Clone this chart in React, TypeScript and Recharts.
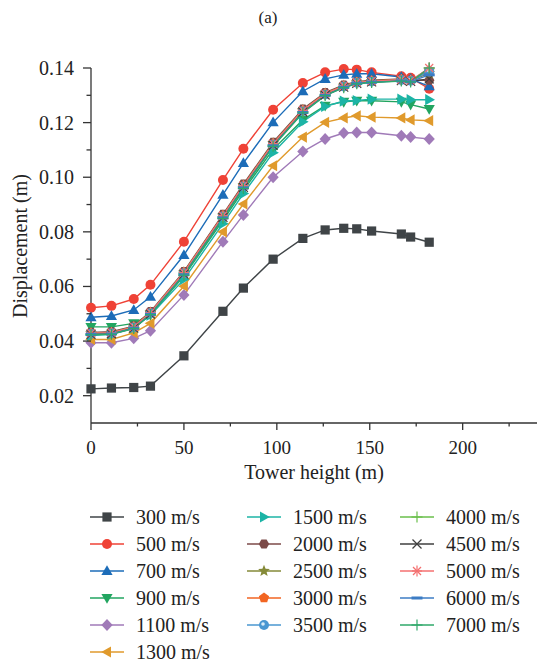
import React from 'react';
import { LineChart, Line, XAxis, YAxis } from 'recharts';

const FONT = '"Liberation Serif", "Times New Roman", serif';

// tower heights (m)
const heights = [0, 11, 23, 32, 50, 71, 82, 98, 114, 126, 136, 143, 151, 167, 172, 182];

// displacement (m) per wave speed
const d300 = [0.0225, 0.0228, 0.023, 0.0235, 0.0346, 0.0509, 0.0594, 0.07, 0.0776, 0.0807, 0.0813, 0.0811, 0.0803, 0.0792, 0.0781, 0.0762];
const d500 = [0.0522, 0.0529, 0.0554, 0.0606, 0.0764, 0.099, 0.1104, 0.1247, 0.1345, 0.1384, 0.1396, 0.1394, 0.1384, 0.137, 0.1364, 0.1324];
const d700 = [0.0487, 0.0492, 0.0514, 0.0562, 0.0715, 0.0936, 0.1052, 0.1201, 0.1315, 0.136, 0.1375, 0.1379, 0.1379, 0.1367, 0.136, 0.1333];
const d900 = [0.0452, 0.0452, 0.0465, 0.0497, 0.0638, 0.0842, 0.0952, 0.1102, 0.121, 0.1262, 0.1276, 0.128, 0.128, 0.1276, 0.1266, 0.125];
const d1100 = [0.0394, 0.0394, 0.041, 0.0438, 0.0569, 0.0764, 0.0862, 0.1, 0.1094, 0.114, 0.1162, 0.1164, 0.1164, 0.1152, 0.1147, 0.114];
const d1300 = [0.0406, 0.0406, 0.043, 0.0465, 0.0601, 0.08, 0.0902, 0.1042, 0.1147, 0.1201, 0.1217, 0.1225, 0.122, 0.1217, 0.121, 0.1207];
const d1500 = [0.042, 0.0425, 0.0448, 0.0495, 0.0626, 0.083, 0.094, 0.109, 0.1203, 0.1259, 0.1279, 0.1281, 0.1286, 0.1286, 0.1284, 0.1284];
const d2000 = [0.0432, 0.0434, 0.0455, 0.0508, 0.0655, 0.0864, 0.0975, 0.1128, 0.125, 0.131, 0.1338, 0.135, 0.1355, 0.136, 0.1355, 0.1355];
const d2500 = [0.043, 0.0432, 0.0453, 0.0505, 0.0652, 0.086, 0.097, 0.1125, 0.1246, 0.1307, 0.1335, 0.1348, 0.1353, 0.1358, 0.1355, 0.138];
const d3000 = [0.0428, 0.043, 0.0451, 0.0503, 0.065, 0.0858, 0.0968, 0.1122, 0.1244, 0.1305, 0.1333, 0.1347, 0.1352, 0.1357, 0.1354, 0.139];
const d3500 = [0.0427, 0.0429, 0.045, 0.0502, 0.0648, 0.0856, 0.0966, 0.112, 0.1242, 0.1303, 0.1332, 0.1346, 0.1351, 0.1356, 0.1353, 0.1388];
const d4000 = [0.0426, 0.0428, 0.0449, 0.05, 0.0646, 0.0854, 0.0964, 0.1118, 0.124, 0.1302, 0.1331, 0.1345, 0.135, 0.1355, 0.1352, 0.14];
const d4500 = [0.0425, 0.0427, 0.0448, 0.0499, 0.0645, 0.0853, 0.0963, 0.1117, 0.1239, 0.1301, 0.133, 0.1344, 0.1349, 0.1354, 0.1351, 0.136];
const d5000 = [0.0429, 0.0431, 0.0452, 0.0504, 0.0651, 0.0859, 0.0969, 0.1123, 0.1245, 0.1306, 0.1334, 0.1347, 0.1352, 0.1357, 0.1354, 0.14];
const d6000 = [0.0424, 0.0426, 0.0447, 0.0498, 0.0643, 0.0851, 0.0961, 0.1115, 0.1237, 0.13, 0.1329, 0.1343, 0.1348, 0.1353, 0.135, 0.1375];
const d7000 = [0.0423, 0.0425, 0.0446, 0.0497, 0.0641, 0.0849, 0.0959, 0.1113, 0.1236, 0.1299, 0.1328, 0.1342, 0.1347, 0.1352, 0.1349, 0.14];

const speedLabels = ['300 m/s', '500 m/s', '700 m/s', '900 m/s', '1100 m/s', '1300 m/s', '1500 m/s', '2000 m/s',
  '2500 m/s', '3000 m/s', '3500 m/s', '4000 m/s', '4500 m/s', '5000 m/s', '6000 m/s', '7000 m/s'];
const seriesValues = [d300, d500, d700, d900, d1100, d1300, d1500, d2000, d2500, d3000, d3500, d4000, d4500, d5000, d6000, d7000];
const colors = ['#3f4447', '#ef4236', '#1c6cb8', '#22a560', '#a07ab8', '#e09a2c', '#1cb4a6', '#7c4a48',
  '#858a38', '#f26522', '#4a97d1', '#6abf4b', '#3f3f3f', '#f47070', '#3c7cc4', '#2fa86a'];
const shapes = ['square', 'circle', 'triUp', 'triDown', 'diamond', 'triLeft', 'triRight', 'hexagon',
  'star', 'pentagon', 'sphere', 'plus', 'cross', 'asterisk', 'dash', 'plus'];

const yTicks = [0.02, 0.03, 0.04, 0.05, 0.06, 0.07, 0.08, 0.09, 0.1, 0.11, 0.12, 0.13, 0.14];
const xTicks = [0, 25, 50, 75, 100, 125, 150, 175, 200, 225];

const rows = heights.map((h, i) => {
  const row: any = { h };
  seriesValues.forEach((vals, k) => { row['s' + k] = vals[i]; });
  return row;
});

const poly = (cx: number, cy: number, n: number, r: number, rot: number) =>
  Array.from({ length: n }, (_, i) => {
    const a = rot + (i * 2 * Math.PI) / n;
    return `${cx + r * Math.cos(a)},${cy + r * Math.sin(a)}`;
  }).join(' ');

const Marker = ({ cx, cy, shape, color }: { cx: number; cy: number; shape: string; color: string }) => {
  switch (shape) {
    case 'square':
      return <rect x={cx - 4.6} y={cy - 4.6} width={9.2} height={9.2} fill={color} />;
    case 'circle':
      return <circle cx={cx} cy={cy} r={5} fill={color} />;
    case 'triUp':
      return <polygon points={`${cx},${cy - 5.8} ${cx + 5.6},${cy + 4} ${cx - 5.6},${cy + 4}`} fill={color} />;
    case 'triDown':
      return <polygon points={`${cx},${cy + 5.8} ${cx + 5.6},${cy - 4} ${cx - 5.6},${cy - 4}`} fill={color} />;
    case 'triLeft':
      return <polygon points={`${cx - 5.8},${cy} ${cx + 4},${cy - 5.6} ${cx + 4},${cy + 5.6}`} fill={color} />;
    case 'triRight':
      return <polygon points={`${cx + 5.8},${cy} ${cx - 4},${cy - 5.6} ${cx - 4},${cy + 5.6}`} fill={color} />;
    case 'diamond':
      return <polygon points={`${cx},${cy - 6} ${cx + 5.6},${cy} ${cx},${cy + 6} ${cx - 5.6},${cy}`} fill={color} />;
    case 'hexagon':
      return <polygon points={poly(cx, cy, 6, 5.2, 0)} fill={color} />;
    case 'pentagon':
      return <polygon points={poly(cx, cy, 5, 5.4, -Math.PI / 2)} fill={color} />;
    case 'star': {
      const pts = Array.from({ length: 10 }, (_, i) => {
        const r = i % 2 === 0 ? 6.2 : 2.7;
        const a = -Math.PI / 2 + (i * Math.PI) / 5;
        return `${cx + r * Math.cos(a)},${cy + r * Math.sin(a)}`;
      }).join(' ');
      return <polygon points={pts} fill={color} />;
    }
    case 'sphere':
      return (
        <g>
          <circle cx={cx} cy={cy} r={5} fill={color} />
          <circle cx={cx - 1} cy={cy - 1} r={1.8} fill="#d8ecf8" />
        </g>
      );
    case 'plus':
      return (
        <g stroke={color} strokeWidth={1.2}>
          <line x1={cx - 5.5} x2={cx + 5.5} y1={cy} y2={cy} />
          <line x1={cx} x2={cx} y1={cy - 5.5} y2={cy + 5.5} />
        </g>
      );
    case 'cross':
      return (
        <g stroke={color} strokeWidth={1.2}>
          <line x1={cx - 4.5} x2={cx + 4.5} y1={cy - 4.5} y2={cy + 4.5} />
          <line x1={cx - 4.5} x2={cx + 4.5} y1={cy + 4.5} y2={cy - 4.5} />
        </g>
      );
    case 'asterisk':
      return (
        <g stroke={color} strokeWidth={1.2}>
          <line x1={cx - 5} x2={cx + 5} y1={cy} y2={cy} />
          <line x1={cx} x2={cx} y1={cy - 5.5} y2={cy + 5.5} />
          <line x1={cx - 4} x2={cx + 4} y1={cy - 4} y2={cy + 4} />
          <line x1={cx - 4} x2={cx + 4} y1={cy + 4} y2={cy - 4} />
        </g>
      );
    case 'dash':
      return <line x1={cx - 5.5} x2={cx + 5.5} y1={cy} y2={cy} stroke={color} strokeWidth={3} />;
    default:
      return null;
  }
};

const YTick = (props: any) => {
  const { x, y, payload } = props;
  const v = payload.value;
  const major = Math.round(v * 100) % 2 === 0;
  return (
    <g>
      <line x1={x - (major ? 8 : 4.5)} x2={x} y1={y} y2={y} stroke="#333" strokeWidth={1.3} />
      {major && (
        <text x={x - 17} y={y} dy="0.35em" textAnchor="end" fontSize={20} fill="#222" fontFamily={FONT}>
          {v.toFixed(2)}
        </text>
      )}
    </g>
  );
};

const XTick = (props: any) => {
  const { x, y, payload } = props;
  const v = payload.value;
  const major = v % 50 === 0;
  return (
    <g>
      <line x1={x} x2={x} y1={y} y2={y + (major ? 7 : 3.5)} stroke="#333" strokeWidth={1.3} />
      {major && (
        <text x={x} y={y + 24} dy="0.35em" textAnchor="middle" fontSize={19} fill="#222" fontFamily={FONT}>
          {v}
        </text>
      )}
    </g>
  );
};

const legendCols = [[0, 1, 2, 3, 4, 5], [6, 7, 8, 9, 10], [11, 12, 13, 14, 15]];
const legendX = [90, 247, 400];

export default function App() {
  return (
    <div style={{ position: 'relative', width: 537, height: 667, background: '#fff', fontFamily: FONT }}>
      <style>{'body{margin:0}'}</style>
      <LineChart width={537} height={667} data={rows} margin={{ top: 68, right: 0, bottom: 214, left: 41 }}>
        <XAxis
          dataKey="h"
          type="number"
          domain={[0, 240]}
          ticks={xTicks}
          height={30}
          tickSize={0}
          tickMargin={0}
          tickLine={false}
          axisLine={{ stroke: '#333', strokeWidth: 1.3 }}
          tick={<XTick />}
          interval={0}
        />
        <YAxis
          type="number"
          domain={[0.01, 0.14]}
          ticks={yTicks}
          width={50}
          tickSize={0}
          tickMargin={0}
          tickLine={false}
          axisLine={{ stroke: '#333', strokeWidth: 1.3 }}
          tick={<YTick />}
          interval={0}
        />
        {seriesValues.map((_, k) => (
          <Line
            key={k}
            dataKey={'s' + k}
            name={speedLabels[k]}
            type="linear"
            stroke={colors[k]}
            strokeWidth={1.4}
            isAnimationActive={false}
            dot={(p: any) => (
              <Marker key={`m${k}-${p.index}`} cx={p.cx} cy={p.cy} shape={shapes[k]} color={colors[k]} />
            )}
            activeDot={false}
          />
        ))}
      </LineChart>
      <svg width={537} height={667} style={{ position: 'absolute', left: 0, top: 0, pointerEvents: 'none' }}>
        <text x={268} y={17} dy="0.35em" textAnchor="middle" fontSize={17} fill="#222" fontFamily={FONT}>(a)</text>
        <text
          transform="translate(20,246) rotate(-90)"
          textAnchor="middle"
          dy="0.35em"
          fontSize={20}
          fill="#222"
          fontFamily={FONT}
        >
          Displacement (m)
        </text>
        <text x={314} y={472} dy="0.35em" textAnchor="middle" fontSize={20} fill="#222" fontFamily={FONT}>
          Tower height (m)
        </text>
        {legendCols.map((col, c) =>
          col.map((k, r) => {
            const y = 517 + r * 27;
            const x0 = legendX[c];
            return (
              <g key={k}>
                <line x1={x0} x2={x0 + 34} y1={y} y2={y} stroke={colors[k]} strokeWidth={1.4} />
                <Marker cx={x0 + 17} cy={y} shape={shapes[k]} color={colors[k]} />
                <text x={x0 + 46} y={y} dy="0.35em" fontSize={20} fill="#222" fontFamily={FONT}>
                  {speedLabels[k]}
                </text>
              </g>
            );
          })
        )}
      </svg>
    </div>
  );
}
